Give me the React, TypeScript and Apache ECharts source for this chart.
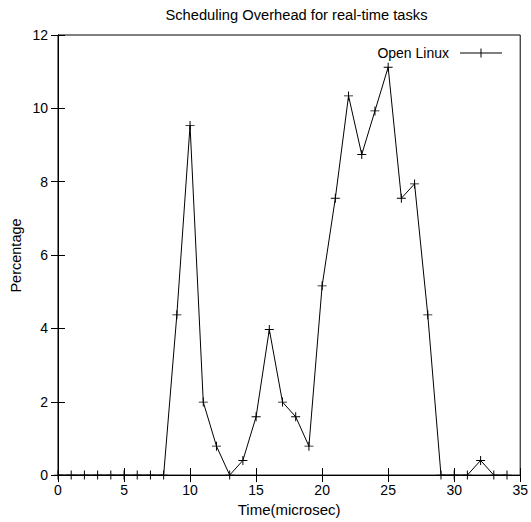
import React, { useEffect, useRef } from "react";
import * as echarts from "echarts";

const timeValues = [0, 1, 2, 3, 4, 5, 6, 7, 8, 9, 10, 11, 12, 13, 14, 15, 16, 17, 18, 19, 20, 21, 22, 23, 24, 25, 26, 27, 28, 29, 30, 31, 32, 33, 34];
const percentValues = [0, 0, 0, 0, 0, 0, 0, 0, 0, 4.37, 9.53, 1.99, 0.79, 0, 0.4, 1.59, 3.97, 1.99, 1.59, 0.79, 5.16, 7.55, 10.34, 8.74, 9.93, 11.12, 7.55, 7.94, 4.37, 0, 0, 0, 0.4, 0, 0];
const seriesName = "Open Linux";
const titleText = "Scheduling Overhead for real-time tasks";
const xName = "Time(microsec)";
const yName = "Percentage";

const FONT = "Liberation Sans, Arial, Helvetica, sans-serif";
const PLUS = "path://M0,4.5L9,4.5L9,5.5L0,5.5Z M4,0L5,0L5,10L4,10Z";
const LEGEND_ICON = "path://M0,4.5L42,4.5L42,5.5L0,5.5Z M20.5,0.5L21.5,0.5L21.5,9.5L20.5,9.5Z";

export default function App() {
  const ref = useRef<HTMLDivElement>(null);
  useEffect(() => {
    if (!ref.current) return;
    const chart = echarts.init(ref.current, undefined, { renderer: "svg" });
    const data = timeValues.map((t, i) => [t, percentValues[i]]);
    const tickStyle = { inside: true, length: 7, lineStyle: { color: "#000", width: 1 } };
    chart.setOption({
      animation: false,
      backgroundColor: "#fff",
      textStyle: { fontFamily: FONT },
      title: {
        text: titleText,
        left: 291.5,
        textAlign: "center",
        top: 2,
        textStyle: { fontSize: 14.7, fontWeight: "normal", color: "#000", fontFamily: FONT },
      },
      legend: {
        data: [seriesName],
        right: 24,
        top: 41,
        align: "right",
        itemWidth: 42,
        itemHeight: 10,
        itemGap: 0,
        icon: LEGEND_ICON,
        textStyle: { fontSize: 14, color: "#000", fontFamily: FONT, padding: [0, 6, 0, 0] },
      },
      grid: {
        left: 58,
        right: 6,
        top: 35,
        bottom: 45,
        show: true,
        borderColor: "#000",
        borderWidth: 1,
      },
      xAxis: [
        {
          type: "value",
          min: 0,
          max: 35,
          interval: 5,
          name: xName,
          nameLocation: "middle",
          nameGap: 20,
          nameTextStyle: { fontSize: 15, color: "#000", fontFamily: FONT },
          axisLine: { show: true, lineStyle: { color: "#000" } },
          axisTick: tickStyle,
          axisLabel: { fontSize: 14, color: "#000", margin: 8, fontFamily: FONT },
          splitLine: { show: false },
        },
        {
          type: "value",
          position: "top",
          min: 0,
          max: 35,
          interval: 5,
          axisLine: { show: true, lineStyle: { color: "#000" } },
          axisTick: tickStyle,
          axisLabel: { show: false },
          splitLine: { show: false },
        },
      ],
      yAxis: [
        {
          type: "value",
          min: 0,
          max: 12,
          interval: 2,
          axisLine: { show: true, lineStyle: { color: "#000" } },
          axisTick: tickStyle,
          axisLabel: { fontSize: 14, color: "#000", margin: 10, fontFamily: FONT },
          splitLine: { show: false },
        },
        {
          type: "value",
          position: "right",
          min: 0,
          max: 12,
          interval: 2,
          axisLine: { show: true, lineStyle: { color: "#000" } },
          axisTick: tickStyle,
          axisLabel: { show: false },
          splitLine: { show: false },
        },
      ],
      graphic: [
        {
          type: "text",
          x: 16,
          y: 255.5,
          rotation: Math.PI / 2,
          style: {
            text: yName,
            fontSize: 14.5,
            fontFamily: FONT,
            fill: "#000",
            align: "center",
            verticalAlign: "middle",
          },
        },
      ],
      series: [
        {
          name: seriesName,
          type: "line",
          data,
          symbol: PLUS,
          symbolSize: 9,
          showAllSymbol: true,
          color: "#000",
          lineStyle: { color: "#000", width: 1 },
          itemStyle: { color: "#000" },
        },
      ],
    });
    return () => chart.dispose();
  }, []);
  return <div ref={ref} style={{ width: 531, height: 522, position: "absolute", left: 0, top: 0 }} />;
}
